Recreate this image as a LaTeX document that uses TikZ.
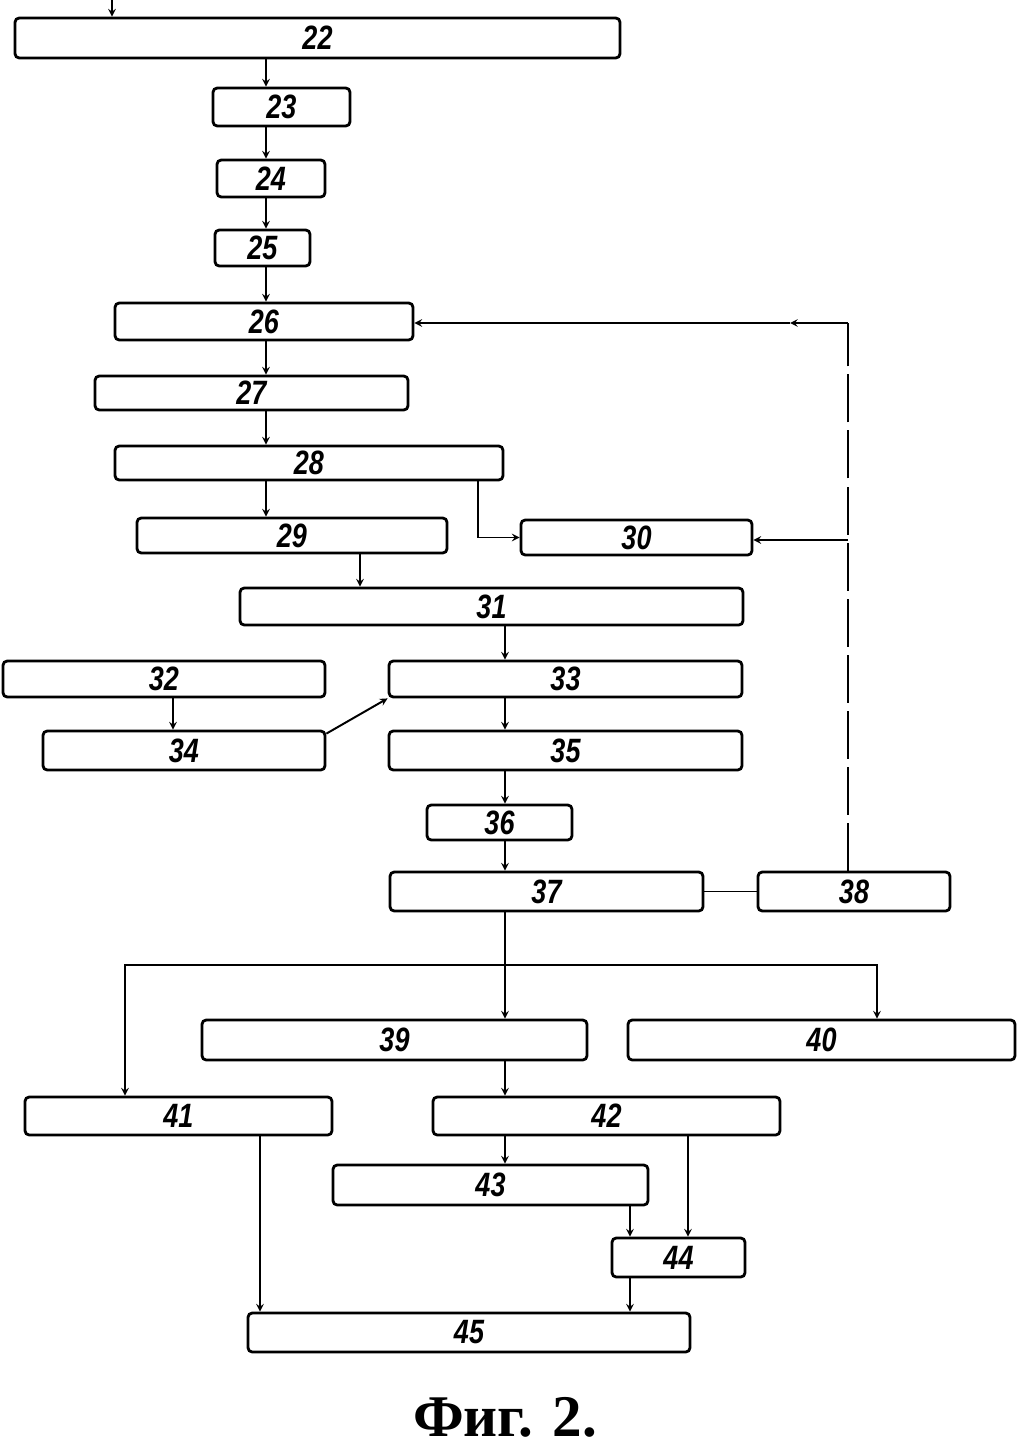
\documentclass[tikz,border=0pt]{standalone}
\usepackage{fontspec}
\usepackage{tikz}
\usetikzlibrary{arrows,calc}
\newfontfamily\numfont[FakeStretch=0.8]{Liberation Sans}
\newfontfamily\capfont{Liberation Serif}

\begin{document}
\begin{tikzpicture}[x=0.025cm,y=-0.025cm,>=stealth,
        blk/.style 2 args={draw,rounded corners=3pt,line width=2pt,inner sep=0pt,
          minimum width=#1*0.025cm,minimum height=#2*0.025cm,
          font=\numfont\bfseries\itshape\fontsize{24}{24}\selectfont},
        link/.style={line width=1.4pt},
        every path/.style={link}]
        \useasboundingbox (0,0) rectangle (1020,1446);
        % blocks
        \node[blk={605}{40}] (b22) at (317.5,38)   {22};
        \node[blk={137}{38}] (b23) at (281.5,107)  {23};
        \node[blk={108}{37}] (b24) at (271,178.5)  {24};
        \node[blk={95}{36}]  (b25) at (262.5,248)  {25};
        \node[blk={298}{37}] (b26) at (264,321.5)  {26};
        \node[blk={313}{34}] (b27) at (251.5,393)  {27};
        \node[blk={388}{34}] (b28) at (309,463)    {28};
        \node[blk={310}{35}] (b29) at (292,535.5)  {29};
        \node[blk={231}{35}] (b30) at (636.5,537.5) {30};
        \node[blk={503}{37}] (b31) at (491.5,606.5) {31};
        \node[blk={322}{36}] (b32) at (164,679)    {32};
        \node[blk={353}{36}] (b33) at (565.5,679)  {33};
        \node[blk={282}{39}] (b34) at (184,750.5)  {34};
        \node[blk={353}{39}] (b35) at (565.5,750.5) {35};
        \node[blk={145}{35}] (b36) at (499.5,822.5) {36};
        \node[blk={313}{39}] (b37) at (546.5,891.5) {37};
        \node[blk={192}{39}] (b38) at (854,891.5)  {38};
        \node[blk={385}{40}] (b39) at (394.5,1040) {39};
        \node[blk={387}{40}] (b40) at (821.5,1040) {40};
        \node[blk={307}{38}] (b41) at (178.5,1116) {41};
        \node[blk={347}{38}] (b42) at (606.5,1116) {42};
        \node[blk={315}{40}] (b43) at (490.5,1185) {43};
        \node[blk={133}{39}] (b44) at (678.5,1257.5) {44};
        \node[blk={442}{39}] (b45) at (469,1332.5) {45};
        \node[font=\capfont\bfseries\fontsize{42}{42}\selectfont,inner sep=0pt,anchor=base]
          (cap) at (505,1436) {Фиг. 2.};
        % columns of the connectors
        \coordinate (in)   at (112,0);
        \coordinate (colA) at (266,0);
        \coordinate (colB) at (505,0);
        \coordinate (colC) at (360,0);
        \coordinate (colD) at (173,0);
        \coordinate (colE) at (478,0);
        \coordinate (colF) at (848,0);
        \coordinate (colG) at (125,0);
        \coordinate (colH) at (877,0);
        \coordinate (colI) at (260,0);
        \coordinate (colJ) at (630,0);
        \coordinate (colK) at (688,0);
        \coordinate (fbtop) at (848,323);
        \coordinate (fbmid) at (790,323);
        \coordinate (fb30)  at (848,540);
        \coordinate (split) at (505,965);
        % main chain
        \draw[->] (in) -- (b22.north -| in);
        \draw[->] (b22.south -| colA) -- (b23.north -| colA);
        \draw[->] (b23.south -| colA) -- (b24.north -| colA);
        \draw[->] (b24.south -| colA) -- (b25.north -| colA);
        \draw[->] (b25.south -| colA) -- (b26.north -| colA);
        \draw[->] (b26.south -| colA) -- (b27.north -| colA);
        \draw[->] (b27.south -| colA) -- (b28.north -| colA);
        \draw[->] (b28.south -| colA) -- (b29.north -| colA);
        \draw[->] (b28.south -| colE) |- (b30.west);
        \draw[->] (b29.south -| colC) -- (b31.north -| colC);
        \draw[->] (b31.south -| colB) -- (b33.north -| colB);
        \draw[->] (b32.south -| colD) -- (b34.north -| colD);
        \draw[->] ($(b34.north east)+(0,4)$) -- (b33.south west);
        \draw[->] (b33.south -| colB) -- (b35.north -| colB);
        \draw[->] (b35.south -| colB) -- (b36.north -| colB);
        \draw[->] (b36.south -| colB) -- (b37.north -| colB);
        \draw (b37.east) -- (b38.west);
        % feedback from 38
        \draw[dash pattern=on 1.2cm off 0.2cm] (b38.north -| colF) -- (fbtop);
        \draw[->] (fbtop) -- (fbmid);
        \draw[->] (fbmid) -- (b26.east |- fbmid);
        \draw[->] (fb30) -- (fb30 -| b30.east);
        % outputs of 37
        \draw (b37.south -| colB) -- (split);
        \draw[->] (split) -| (b41.north -| colG);
        \draw[->] (split) -| (b40.north -| colH);
        \draw[->] (split) -- (b39.north -| colB);
        \draw[->] (b39.south -| colB) -- (b42.north -| colB);
        \draw[->] (b42.south -| colB) -- (b43.north -| colB);
        \draw[->] (b43.south -| colJ) -- (b44.north -| colJ);
        \draw[->] (b42.south -| colK) -- (b44.north -| colK);
        \draw[->] (b44.south -| colJ) -- (b45.north -| colJ);
        \draw[->] (b41.south -| colI) -- (b45.north -| colI);
\end{tikzpicture}
\end{document}
